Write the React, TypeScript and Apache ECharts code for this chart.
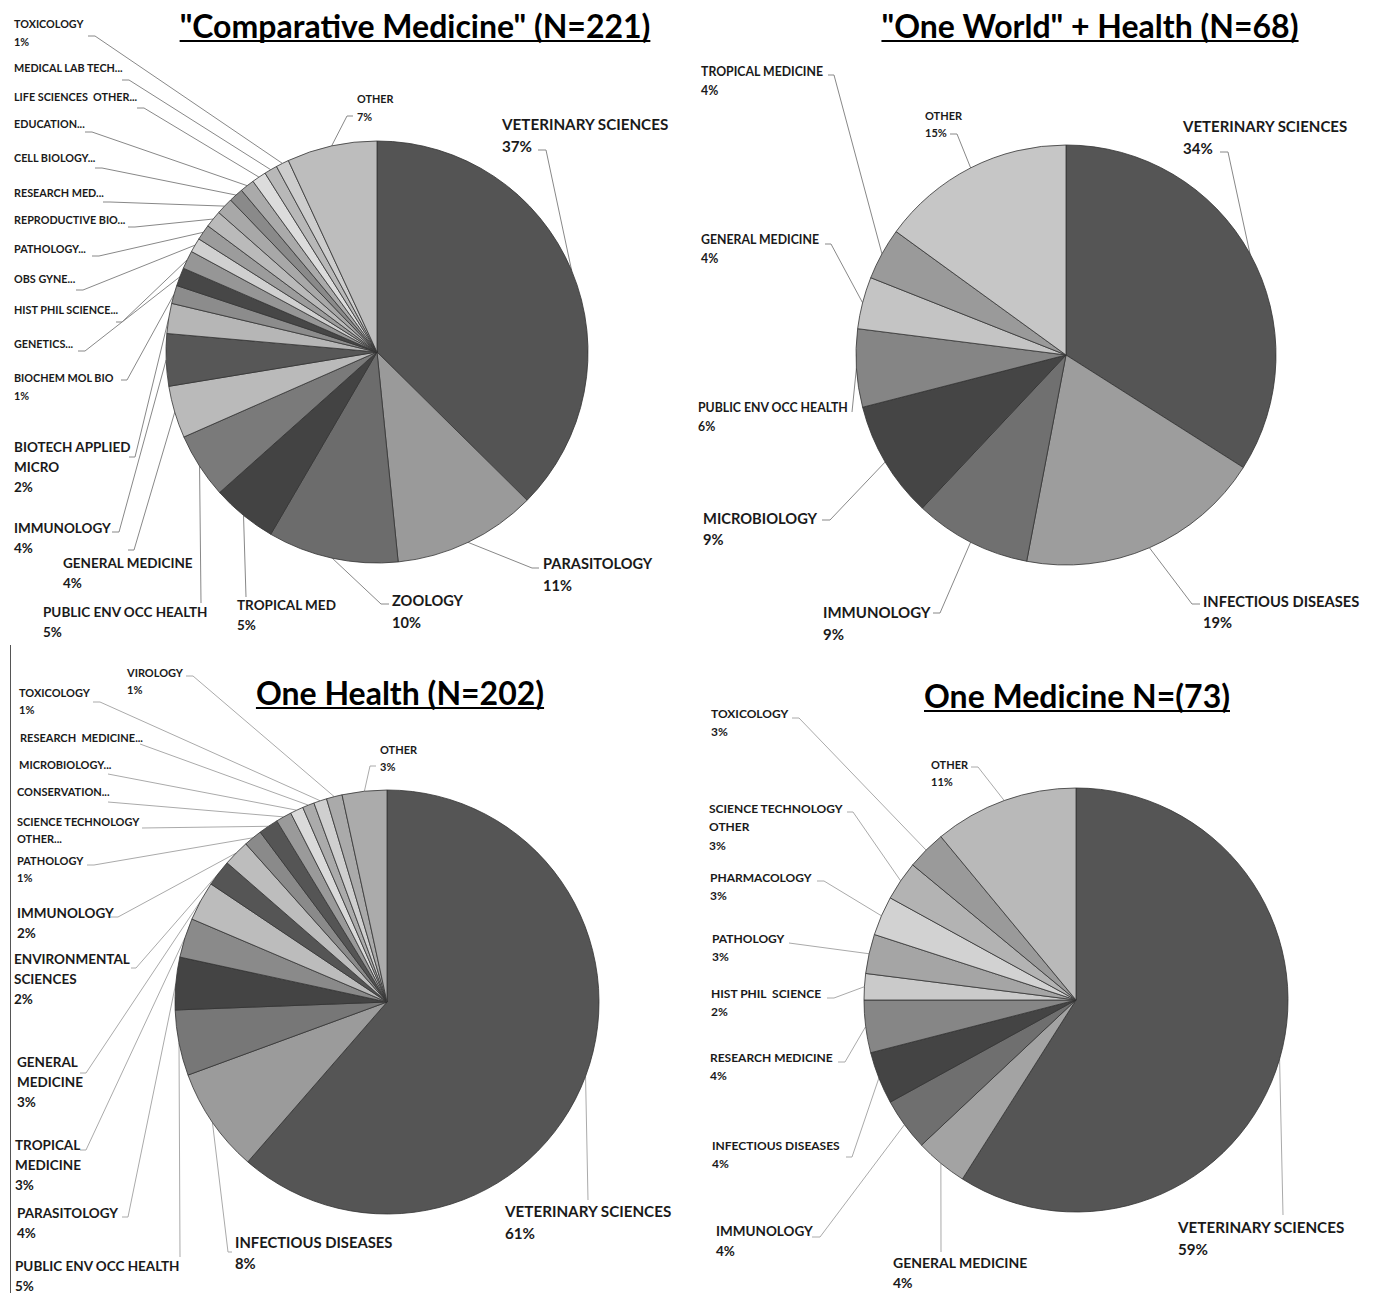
import React, { useEffect, useRef } from "react";
import * as echarts from "echarts";

const W = 1375;
const H = 1293;
const FONT = 'Lato, "Open Sans", sans-serif';

// ---------- "Comparative Medicine" (N=221)
const cmTitle = '"Comparative Medicine" (N=221)';
const cmNames = [
  "VETERINARY SCIENCES", "PARASITOLOGY", "ZOOLOGY", "TROPICAL MED", "PUBLIC ENV OCC HEALTH",
  "GENERAL MEDICINE", "IMMUNOLOGY", "BIOTECH APPLIED\nMICRO", "BIOCHEM MOL BIO", "GENETICS...",
  "HIST PHIL SCIENCE...", "OBS GYNE...", "PATHOLOGY...", "REPRODUCTIVE BIO...", "RESEARCH MED...",
  "CELL BIOLOGY...", "EDUCATION...", "LIFE SCIENCES  OTHER...", "MEDICAL LAB TECH...", "TOXICOLOGY", "OTHER",
];
const cmValues = [37.4, 11, 10, 5, 5, 4, 4, 2.3, 1.4, 1.4, 1.4, 1.1, 1.2, 1.3, 1.3, 1.1, 1.1, 1.1, 1.0, 1.0, 6.9];
const cmShowPct = [1, 1, 1, 1, 1, 1, 1, 1, 1, 0, 0, 0, 0, 0, 0, 0, 0, 0, 0, 1, 1];

// ---------- "One World" + Health (N=68)
const owTitle = '"One World" + Health (N=68)';
const owNames = [
  "VETERINARY SCIENCES", "INFECTIOUS DISEASES", "IMMUNOLOGY", "MICROBIOLOGY",
  "PUBLIC ENV OCC HEALTH", "GENERAL MEDICINE", "TROPICAL MEDICINE", "OTHER",
];
const owValues = [34, 19, 9, 9, 6, 4, 4, 15];
const owShowPct = [1, 1, 1, 1, 1, 1, 1, 1];

// ---------- One Health (N=202)
const ohTitle = "One Health (N=202)";
const ohNames = [
  "VETERINARY SCIENCES", "INFECTIOUS DISEASES", "PUBLIC ENV OCC HEALTH", "PARASITOLOGY",
  "TROPICAL\nMEDICINE", "GENERAL\nMEDICINE", "ENVIRONMENTAL\nSCIENCES", "IMMUNOLOGY", "PATHOLOGY",
  "SCIENCE TECHNOLOGY\nOTHER...", "CONSERVATION...", "MICROBIOLOGY...", "RESEARCH  MEDICINE...",
  "TOXICOLOGY", "VIROLOGY", "OTHER",
];
const ohValues = [61.4, 8, 5, 4, 3, 3, 2, 2, 1.4, 1.5, 1.2, 1.0, 0.9, 1.0, 1.2, 3.4];
const ohShowPct = [1, 1, 1, 1, 1, 1, 1, 1, 1, 0, 0, 0, 0, 1, 1, 1];

// ---------- One Medicine N=(73)
const omTitle = "One Medicine N=(73)";
const omNames = [
  "VETERINARY SCIENCES", "GENERAL MEDICINE", "IMMUNOLOGY", "INFECTIOUS DISEASES", "RESEARCH MEDICINE",
  "HIST PHIL  SCIENCE", "PATHOLOGY", "PHARMACOLOGY", "SCIENCE TECHNOLOGY\nOTHER", "TOXICOLOGY", "OTHER",
];
const omValues = [59, 4, 4, 4, 4, 2, 3, 3, 3, 3, 11];
const omShowPct = [1, 1, 1, 1, 1, 1, 1, 1, 1, 1, 1];

// ---------- styles (grey shades per slice)
const cmColors = ["#545454", "#9a9a9a", "#6c6c6c", "#434343", "#7a7a7a", "#bababa", "#575757", "#b6b6b6",
  "#8c8c8c", "#474747", "#969696", "#d0d0d0", "#9c9c9c", "#bababa", "#a8a8a8", "#8a8a8a", "#aaaaaa",
  "#dcdcdc", "#b8b8b8", "#cdcdcd", "#bdbdbd"];
const owColors = ["#555555", "#9d9d9d", "#707070", "#454545", "#858585", "#c4c4c4", "#9a9a9a", "#c6c6c6"];
const ohColors = ["#555555", "#9b9b9b", "#777777", "#444444", "#8a8a8a", "#bcbcbc", "#555555", "#bdbdbd",
  "#8a8a8a", "#555555", "#9a9a9a", "#dadada", "#ababab", "#cfcfcf", "#aaaaaa", "#ababab"];
const omColors = ["#555555", "#a3a3a3", "#6f6f6f", "#444444", "#868686", "#cacaca", "#a5a5a5", "#d2d2d2",
  "#b3b3b3", "#9a9a9a", "#b9b9b9"];

// label layout: [left x, first-line centre y, line attach x, attach y, elbow dx, font size]
const cmLayout = [
  [502, 124, 538, 150, 8, 15.2], [543, 564, 539, 568, -7, 14.6], [392, 601, 389, 604, -8, 14.6],
  [237, 605, 246, 597, 0, 13.5], [43, 612, 201, 603, 0, 13.5], [63, 563, 128, 550, 6, 13.5],
  [14, 528, 112, 532, 7, 13.5], [14, 447, 129, 457, 6, 13.5], [14, 378, 121, 380, 6, 10.8],
  [14, 344, 78, 351, 7, 10.8], [14, 310, 116, 322, 6, 10.8], [14, 279, 76, 290, 7, 10.8],
  [14, 249, 92, 256, 7, 10.8], [14, 220, 128, 227, 7, 10.8], [14, 193, 103, 202, 7, 10.8],
  [14, 158, 95, 168, 7, 10.8], [14, 124, 85, 132, 7, 10.8], [14, 97, 137, 108, 7, 10.8],
  [14, 68, 122, 80, 7, 10.8], [14, 24, 88, 36, 7, 10.8], [357, 99, 353, 116, -6, 10.8],
];
const owLayout = [
  [1183, 126, 1220, 152, 8, 15], [1203, 601, 1200, 604, -8, 14.7], [823, 612, 933, 613, 7, 15],
  [703, 518, 822, 520, 8, 14.7], [698, 408, 852, 412, 0, 12.3], [701, 240, 825, 244, 6, 12.3],
  [701, 72, 828, 75, 6, 12.3], [925, 115, 950, 134, 7, 11],
];
const ohLayout = [
  [505, 1211, 588, 1200, 0, 15.2], [235, 1242, 232, 1252, -4, 14.8], [15, 1266, 180, 1257, 0, 13.5],
  [17, 1213, 122, 1217, 6, 13.5], [15, 1145, 80, 1150, 6, 13.5], [17, 1062, 80, 1073, 6, 13.5],
  [14, 959, 131, 968, 5, 13.5], [17, 913, 111, 917, 7, 13.5], [17, 860, 87, 865, 7, 11],
  [17, 821, 142, 828, 0, 11], [17, 791, 108, 802, 0, 11], [19, 764, 108, 774, 0, 11],
  [20, 737, 140, 744, 0, 11], [19, 692, 93, 702, 7, 11], [127, 672, 186, 676, 7, 11],
  [380, 749, 376, 766, -6, 11],
];
const omLayout = [
  [1178, 1227, 1283, 1215, 0, 15.2], [893, 1262, 941, 1252, 0, 14], [716, 1231, 812, 1237, 8, 13.5],
  [712, 1145, 846, 1157, 6, 12], [710, 1057, 838, 1062, 7, 12], [711, 993, 827, 998, 7, 12],
  [712, 938, 789, 943, 0, 12], [710, 877, 817, 881, 7, 12], [709, 808, 847, 812, 6, 12],
  [711, 713, 792, 718, 7, 12], [931, 764, 971, 767, 7, 11],
];

function buildSeries(
  names: string[], values: number[], showPct: number[], colors: string[], layout: number[][],
  center: number[], radius: number, lineColor: string
) {
  return {
    type: "pie",
    center,
    radius,
    startAngle: 90,
    clockwise: true,
    avoidLabelOverlap: false,
    silent: true,
    emphasis: { disabled: true },
    itemStyle: { borderColor: "#333", borderWidth: 0.8 },
    label: {
      show: true,
      position: "outside",
      fontFamily: FONT,
      fontWeight: "bold",
      color: "#1a1a1a",
      overflow: "none",
      formatter: (p: any) =>
        showPct[p.dataIndex] ? `${p.name}\n${Math.round(p.percent)}%` : p.name,
    },
    labelLine: { show: true, length: 4, length2: 4, lineStyle: { color: lineColor, width: 1 } },
    labelLayout: (params: any) => {
      const [x, yc, ax, ay, el, fs] = layout[params.dataIndex];
      const L = fs + 6.5;
      const pts = params.labelLinePoints;
      const p0 = pts && pts[0] ? pts[0] : [ax, ay];
      const linePts = el ? [p0, [ax + el, ay], [ax, ay]] : [p0, [ax, ay]];
      return { x, y: yc - L / 2, align: "left", verticalAlign: "top", labelLinePoints: linePts };
    },
    data: names.map((n, i) => ({
      name: n,
      value: values[i],
      itemStyle: { color: colors[i] },
      label: { fontSize: layout[i][5], lineHeight: layout[i][5] + 6.5 },
    })),
  };
}

function measure(text: string, font: string) {
  const c = document.createElement("canvas").getContext("2d");
  if (!c) return text.length * 15;
  c.font = font;
  return c.measureText(text).width;
}

const titleDefs: [string, number, number][] = [
  [cmTitle, 415, 25],
  [owTitle, 1090, 25],
  [ohTitle, 400, 692],
  [omTitle, 1077, 695],
];

export default function App() {
  const ref = useRef<HTMLDivElement>(null);
  useEffect(() => {
    document.body.style.margin = "0";
    if (!ref.current) return;
    const chart = echarts.init(ref.current, undefined, { renderer: "svg" });
    const titleSize = 32;
    const tFont = `bold ${titleSize}px Lato`;
    const graphics: any[] = [];
    titleDefs.forEach(([t, x, y]) => {
      const w = measure(t, tFont);
      graphics.push({
        type: "text",
        x,
        y,
        style: {
          text: t, fontFamily: FONT, fontWeight: "bold", fontSize: titleSize, fill: "#000",
          align: "center", verticalAlign: "middle",
        },
      });
      graphics.push({
        type: "line",
        shape: { x1: x - w / 2, y1: y + 16, x2: x + w / 2, y2: y + 16 },
        style: { stroke: "#000", lineWidth: 2 },
      });
    });
    graphics.push({
      type: "line",
      shape: { x1: 10.5, y1: 645, x2: 10.5, y2: H },
      style: { stroke: "#555", lineWidth: 1 },
    });
    chart.setOption({
      animation: false,
      backgroundColor: "#fff",
      graphic: graphics,
      series: [
        buildSeries(cmNames, cmValues, cmShowPct, cmColors, cmLayout, [377, 352], 211, "#888"),
        buildSeries(owNames, owValues, owShowPct, owColors, owLayout, [1066, 355], 210, "#888"),
        buildSeries(ohNames, ohValues, ohShowPct, ohColors, ohLayout, [387, 1002], 212, "#aaa"),
        buildSeries(omNames, omValues, omShowPct, omColors, omLayout, [1076, 1000], 212, "#aaa"),
      ],
    });
    return () => chart.dispose();
  }, []);
  return <div ref={ref} style={{ width: W, height: H }} />;
}
